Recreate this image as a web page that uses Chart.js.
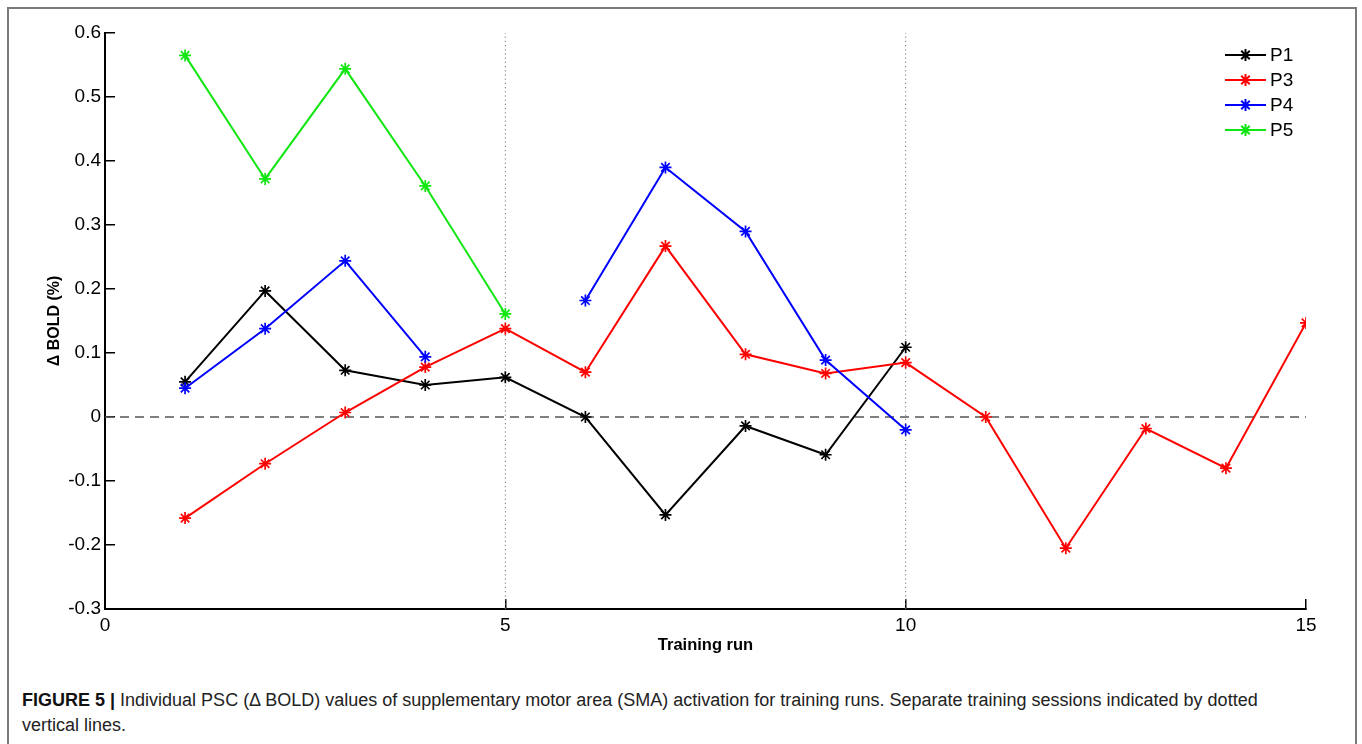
<!DOCTYPE html>
<html>
<head>
<meta charset="utf-8">
<title>Figure 5 - SMA PSC per training run</title>
<script src="https://cdn.jsdelivr.net/npm/chart.js@4.4.0/dist/chart.umd.min.js"></script>
<style>
    html, body {
        margin: 0;
        padding: 0;
        background: #ffffff;
        width: 1362px;
        height: 744px;
        overflow: hidden;
    }
    .frame {
        position: absolute;
        left: 7px;
        top: 7px;
        width: 1346px;
        height: 770px;
        border: 2px solid #7a7a7a;
    }
    .plot {
        position: absolute;
        left: 0;
        top: 0;
        width: 1362px;
        height: 670px;
    }
    .caption {
        position: absolute;
        left: 22px;
        top: 688px;
        font-family: "Liberation Sans Narrow", "Liberation Sans", Arial, sans-serif;
        font-size: 18px;
        line-height: 25px;
        color: #222;
    }
    .caption b {
        color: #111;
    }
</style>
</head>
<body>
<div class="frame"></div>
<div class="plot"><canvas id="smaChart"></canvas></div>
<div class="caption"><b>FIGURE 5 |</b> Individual PSC (&Delta; BOLD) values of supplementary motor area (SMA) activation for training runs. Separate training sessions indicated by dotted<br>vertical lines.</div>

<script>
// training runs on the x axis
const runs = [1, 2, 3, 4, 5, 6, 7, 8, 9, 10, 11, 12, 13, 14, 15];

// Δ BOLD (%) per participant, null = no run
const p1 = [0.055, 0.197, 0.073, 0.050, 0.062, 0.000, -0.153, -0.014, -0.059, 0.109];
const p3 = [-0.158, -0.073, 0.007, 0.078, 0.138, 0.070, 0.267, 0.098, 0.068, 0.085, 0.000, -0.205, -0.018, -0.080, 0.147];
const p4 = [0.045, 0.138, 0.244, 0.094, null, 0.182, 0.390, 0.290, 0.089, -0.020];
const p5 = [0.565, 0.372, 0.544, 0.361, 0.161];

// session boundaries (dotted lines)
const sessionBreaks = [5, 10];

const xTicks = [0, 5, 10, 15];
const yMin = -0.3;
const yMax = 0.6;

function toPoints(values) {
    return values.map((v, i) => ({ x: runs[i], y: v }));
}

function seriesDataset(label, values, color, order) {
    return {
        label: label,
        data: toPoints(values),
        borderColor: color,
        backgroundColor: color,
        borderWidth: 2,
        pointStyle: 'star',
        pointRadius: 6,
        pointBorderWidth: 1.7,
        pointBorderColor: color,
        pointHoverRadius: 6,
        spanGaps: false,
        tension: 0,
        order: order
    };
}

const datasets = [
    seriesDataset('P1', p1, '#000000', 4),
    seriesDataset('P3', p3, '#ff0000', 3),
    seriesDataset('P4', p4, '#0000ff', 2),
    seriesDataset('P5', p5, '#11e611', 1),
    {
        label: 'zero',
        data: [{ x: xTicks[0], y: 0 }, { x: xTicks[xTicks.length - 1], y: 0 }],
        borderColor: '#555555',
        borderWidth: 1.4,
        borderDash: [9, 6],
        pointRadius: 0,
        order: 6,
        isGuide: true
    }
];

sessionBreaks.forEach(b => {
    datasets.push({
        label: 'session ' + b,
        data: [{ x: b, y: yMin }, { x: b, y: yMax }],
        borderColor: '#777777',
        borderWidth: 1,
        borderDash: [1.2, 3],
        pointRadius: 0,
        order: 7,
        isGuide: true
    });
});

// legend drawn like a matlab legend: line + star marker + label
const lineLegend = {
    id: 'lineLegend',
    afterDatasetsDraw(chart) {
        const ctx = chart.ctx;
        const area = chart.chartArea;
        const x0 = area.right - 81;
        const x1 = area.right - 40;
        let y = area.top + 22;
        ctx.save();
        chart.data.datasets.forEach(ds => {
            if (ds.isGuide) return;
            ctx.strokeStyle = ds.borderColor;
            ctx.lineWidth = 2;
            ctx.setLineDash([]);
            ctx.beginPath();
            ctx.moveTo(x0, y);
            ctx.lineTo(x1, y);
            ctx.stroke();
            Chart.helpers.drawPoint(ctx, {
                pointStyle: 'star',
                radius: 6,
                borderWidth: 1.7
            }, (x0 + x1) / 2, y);
            ctx.fillStyle = '#000';
            ctx.font = '19px "Liberation Sans", Arial, sans-serif';
            ctx.textAlign = 'left';
            ctx.textBaseline = 'middle';
            ctx.fillText(ds.label, x1 + 4, y + 1);
            y += 25;
        });
        ctx.restore();
    }
};

const tickFont = { family: '"Liberation Sans", Arial, sans-serif', size: 19 };
const titleFont = { family: '"Liberation Sans", Arial, sans-serif', size: 16.5, weight: 'bold' };

new Chart(document.getElementById('smaChart'), {
    type: 'line',
    data: { datasets: datasets },
    options: {
        responsive: true,
        maintainAspectRatio: false,
        animation: false,
        layout: {
            padding: { left: 45, right: 56, top: 33, bottom: 13 }
        },
        plugins: {
            legend: { display: false },
            tooltip: { enabled: false }
        },
        scales: {
            x: {
                type: 'linear',
                min: xTicks[0],
                max: xTicks[xTicks.length - 1],
                afterBuildTicks(scale) {
                    scale.ticks = xTicks.map(v => ({ value: v }));
                },
                afterFit(scale) {
                    scale.height = 48;
                },
                ticks: {
                    color: '#000',
                    font: tickFont,
                    padding: 15,
                    maxRotation: 0,
                    autoSkip: false
                },
                grid: {
                    drawOnChartArea: false,
                    drawTicks: true,
                    tickLength: -10,
                    color: '#000',
                    lineWidth: 1.5
                },
                border: { color: '#000', width: 2 },
                title: {
                    display: true,
                    text: 'Training run',
                    color: '#000',
                    font: titleFont,
                    padding: { top: 0, bottom: 2 }
                }
            },
            y: {
                type: 'linear',
                min: yMin,
                max: yMax,
                afterFit(scale) {
                    scale.width = 60;
                },
                ticks: {
                    stepSize: 0.1,
                    color: '#000',
                    font: tickFont,
                    padding: 14,
                    callback: v => Number(v.toFixed(1)).toString()
                },
                grid: {
                    drawOnChartArea: false,
                    drawTicks: true,
                    tickLength: -10,
                    color: '#000',
                    lineWidth: 1.5
                },
                border: { color: '#000', width: 2 },
                title: {
                    display: true,
                    text: '\u0394 BOLD (%)',
                    color: '#000',
                    font: { family: '"Liberation Sans", Arial, sans-serif', size: 16, weight: 'bold' },
                    padding: { top: 0, bottom: 0 }
                }
            }
        }
    },
    plugins: [lineLegend]
});
</script>
</body>
</html>
